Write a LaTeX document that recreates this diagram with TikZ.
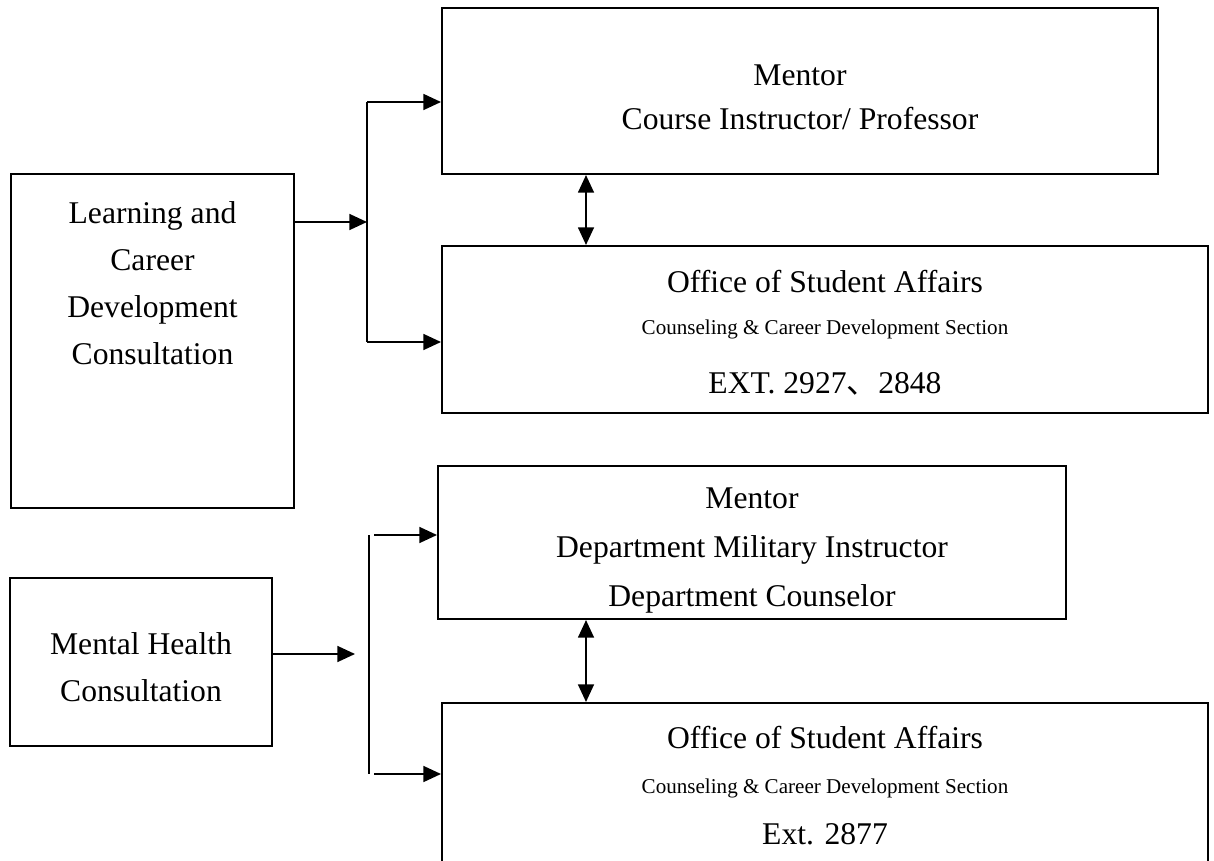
\documentclass[tikz,border=0pt]{standalone}
\usepackage{fontspec}
\setmainfont{Liberation Serif}
\newfontfamily\cjkfont{Noto Sans CJK SC}
\usetikzlibrary{arrows.meta}
\tikzstyle{unit}=[draw,black,line width=1.2pt,inner sep=0pt,align=center,font=\fontsize{18}{26}\selectfont]
\tikzstyle{link}=[black,line width=1.1pt,-{Triangle[length=10pt,width=9pt]}]
\tikzstyle{both}=[black,line width=1.1pt,{Triangle[length=10pt,width=9pt]}-{Triangle[length=10pt,width=9pt]}]
\tikzstyle{bar}=[black,line width=1.1pt]
\newcommand{\subline}[1]{{\fontsize{12}{15}\selectfont #1}}
\newcommand{\lift}[1]{\rule{0pt}{#1}}

\begin{document}
\begin{tikzpicture}[x=0.02cm,y=-0.02cm]
\useasboundingbox (0,0) rectangle (1214,861);
\clip (0,0) rectangle (1214,861);
% left boxes
\node[unit,minimum width=5.66cm,minimum height=6.68cm,
  label={[anchor=north,align=center,font=\fontsize{18}{26.8}\selectfont,yshift=-0.44cm]north:{Learning and\\Career\\Development\\Consultation}}]
  (learn) at (152.5,341) {};
\node[unit,minimum width=5.24cm,minimum height=3.36cm] (mental) at (141,662) {\lift{18.6pt}Mental Health\\[1pt]Consultation};
% right boxes
\node[unit,minimum width=14.32cm,minimum height=3.32cm] (mentorA) at (800,91) {\lift{18.6pt}Mentor\\[-1pt]Course Instructor/ Professor};
\node[unit,minimum width=15.32cm,minimum height=3.34cm] (officeA) at (825,329.5)
  {\lift{16.6pt}Office of Student Affairs\\[-2.5pt]\subline{Counseling \& Career Development Section}\\[7.7pt]EXT. 2927{\cjkfont 、}2848};
\node[unit,minimum width=12.56cm,minimum height=3.06cm] (mentorB) at (752,542.5)
  {\lift{21pt}Mentor\\[2pt]Department Military Instructor\\[2pt]Department Counselor};
\node[unit,minimum width=15.32cm,minimum height=3.3cm,anchor=north] (officeB) at (825,702)
  {Office of Student Affairs\\[-0.5pt]\subline{Counseling \& Career Development Section}\\[2.9pt]Ext. 2877};
% junctions
\coordinate (jA) at (367,222);
\coordinate (jAt) at (367,102);
\coordinate (jAb) at (367,342);
\coordinate (jB) at (355,654);
\coordinate (jBt) at (369,535);
\coordinate (jBb) at (369,774);
% links
\draw[link] (learn.east |- jA) -- (jA);
\draw[bar] (jAt) -- (jAb);
\draw[link] (jAt) -- (jAt -| mentorA.west);
\draw[link] (jAb) -- (jAb -| officeA.west);
\draw[link] (mental.east |- jB) -- (jB);
\draw[bar] (jBt) -- (jBb);
\draw[link] ([xshift=3pt]jBt) -- (jBt -| mentorB.west);
\draw[link] ([xshift=3pt]jBb) -- (jBb -| officeB.west);
\coordinate (dA) at (586,0);
\draw[both] (dA |- mentorA.south) -- (dA |- officeA.north);
\draw[both] (dA |- mentorB.south) -- (dA |- officeB.north);
\end{tikzpicture}
\end{document}
